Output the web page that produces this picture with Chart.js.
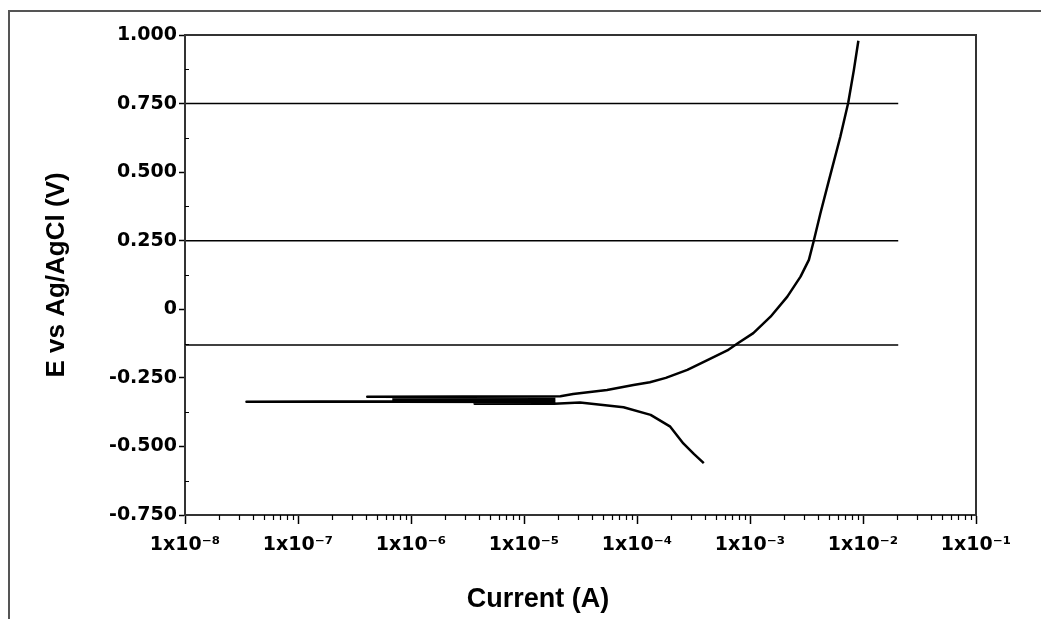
<!DOCTYPE html>
<html>
<head>
<meta charset="utf-8">
<script src="https://cdn.jsdelivr.net/npm/chart.js@4"></script>
<style>
  body { margin: 0; background: #fff; }
  canvas { display: block; }
</style>
</head>
<body>
<canvas id="tafelChart" width="1041" height="619"></canvas>
<script>
// polarization scan, |current| (A) vs potential (V), in scan order
const scanCurrent = [
    3.9e-4, 3.2e-4, 2.57e-4, 1.97e-4, 1.32e-4, 7.6e-5, 3.13e-5, 1.85e-5,
    3.66e-6, 3.66e-6, 1.85e-5, 1.85e-5, 7.0e-7, 3.5e-8, 7.0e-7, 1.85e-5, 1.85e-5, 7.0e-7,
    7.0e-7, 1.85e-5, 1.85e-5, 7.0e-7, 7.0e-7, 1.85e-5, 1.85e-5, 4.1e-7, 2.1e-5,
    2.72e-5, 5.43e-5, 9.3e-5, 1.3e-4, 1.8e-4, 2.79e-4, 4.2e-4, 6.3e-4, 7.8e-4, 1.07e-3,
    1.52e-3, 2.14e-3, 2.8e-3, 3.32e-3, 3.65e-3, 4.2e-3, 5.0e-3, 6.3e-3, 7.4e-3,
    8.3e-3, 9.1e-3
];
const scanPotential = [
    -0.561, -0.528, -0.489, -0.428, -0.385, -0.357, -0.340, -0.344,
    -0.344, -0.341, -0.341, -0.338, -0.337, -0.337, -0.335, -0.335, -0.332, -0.332,
    -0.329, -0.329, -0.326, -0.326, -0.323, -0.323, -0.320, -0.319, -0.317,
    -0.309, -0.294, -0.276, -0.266, -0.250, -0.221, -0.185, -0.150, -0.124, -0.087,
    -0.027, 0.046, 0.119, 0.180, 0.246, 0.350, 0.471, 0.629, 0.753,
    0.872, 0.979
];

// horizontal reference lines
const refLevels = [0.75, 0.25, -0.13];
const refCurrentRange = [1e-8, 2.05e-2];

const xDecades = [1e-8, 1e-7, 1e-6, 1e-5, 1e-4, 1e-3, 1e-2, 1e-1];
const xTickLabels = ["1x10⁻⁸", "1x10⁻⁷", "1x10⁻⁶", "1x10⁻⁵", "1x10⁻⁴", "1x10⁻³", "1x10⁻²", "1x10⁻¹"];
const yMin = -0.75, yMax = 1.0, yStep = 0.25;
const xTitle = "Current (A)";
const yTitle = "E vs Ag/AgCl (V)";

const tickFont = { family: "'DejaVu Sans', sans-serif", size: 19, weight: "bold" };
const titleFamily = "'Liberation Sans', Arial, sans-serif";

let datasets = refLevels.map(level => ({
    data: refCurrentRange.map(c => ({ x: c, y: level })),
    borderColor: "#000",
    borderWidth: 1.5,
    pointRadius: 0,
    showLine: true
}));
datasets.push({
    data: scanCurrent.map((c, i) => ({ x: c, y: scanPotential[i] })),
    borderColor: "#000",
    borderWidth: 2.5,
    borderJoinStyle: "round",
    pointRadius: 0,
    showLine: true
});

// page frame, plot box, minor ticks and x title
const framePlugin = {
    id: "frame",
    beforeDraw(chart) {
        let ctx = chart.ctx;
        ctx.save();
        ctx.fillStyle = "#fff";
        ctx.fillRect(0, 0, chart.width, chart.height);
        ctx.strokeStyle = "#555";
        ctx.lineWidth = 2;
        ctx.beginPath();
        ctx.moveTo(9, chart.height);
        ctx.lineTo(9, 11);
        ctx.lineTo(chart.width, 11);
        ctx.stroke();
        ctx.restore();
    },
    afterDraw(chart) {
        let ctx = chart.ctx;
        let a = chart.chartArea;
        let xs = chart.scales.x, ys = chart.scales.y;
        ctx.save();
        ctx.strokeStyle = "#333";
        ctx.lineWidth = 2;
        ctx.strokeRect(a.left, a.top, a.right - a.left, a.bottom - a.top);

        ctx.strokeStyle = "#000";
        ctx.lineWidth = 1.2;
        ctx.beginPath();
        for (let d = 0; d < xDecades.length - 1; d++) {
            for (let k = 2; k <= 9; k++) {
                let px = Math.round(xs.getPixelForValue(k * xDecades[d])) + 0.5;
                ctx.moveTo(px, a.bottom);
                ctx.lineTo(px, a.bottom + 5);
            }
        }
        for (let v = yMin + yStep / 2; v < yMax; v += yStep) {
            let py = Math.round(ys.getPixelForValue(v)) + 0.5;
            ctx.moveTo(a.left, py);
            ctx.lineTo(a.left + 4, py);
        }
        ctx.stroke();

        // x axis title sits left of the plot centre in the original
        ctx.fillStyle = "#000";
        ctx.font = "bold 27px " + titleFamily;
        ctx.textAlign = "center";
        ctx.textBaseline = "alphabetic";
        ctx.fillText(xTitle, 538, 607);
        ctx.restore();
    }
};

new Chart(document.getElementById("tafelChart"), {
    type: "scatter",
    data: { datasets: datasets },
    options: {
        responsive: false,
        animation: false,
        layout: { padding: { top: 35, right: 65, left: 0, bottom: 0 } },
        plugins: { legend: { display: false }, tooltip: { enabled: false } },
        scales: {
            x: {
                type: "logarithmic",
                min: 1e-8,
                max: 1e-1,
                afterFit: s => { s.height = 104; },
                afterBuildTicks: s => { s.ticks = xDecades.map(v => ({ value: v })); },
                ticks: {
                    autoSkip: false,
                    maxRotation: 0,
                    padding: 10,
                    color: "#000",
                    font: tickFont,
                    callback: (v, i) => xTickLabels[i]
                },
                grid: { drawOnChartArea: false, tickLength: 9, tickColor: "#000", tickWidth: 1.5 },
                border: { color: "#333", width: 2 }
            },
            y: {
                min: yMin,
                max: yMax,
                afterFit: s => { s.width = 185; },
                ticks: {
                    stepSize: yStep,
                    padding: 2,
                    color: "#000",
                    font: tickFont,
                    callback: v => Math.abs(v) < 1e-9 ? "0" : v.toFixed(3)
                },
                grid: { drawOnChartArea: false, tickLength: 6, tickColor: "#000", tickWidth: 1.5 },
                border: { color: "#333", width: 2 },
                title: {
                    display: true,
                    text: yTitle,
                    color: "#000",
                    font: { family: titleFamily, size: 26, weight: "bold" },
                    padding: { top: 41, bottom: 0 }
                }
            }
        }
    },
    plugins: [framePlugin]
});
</script>
</body>
</html>
